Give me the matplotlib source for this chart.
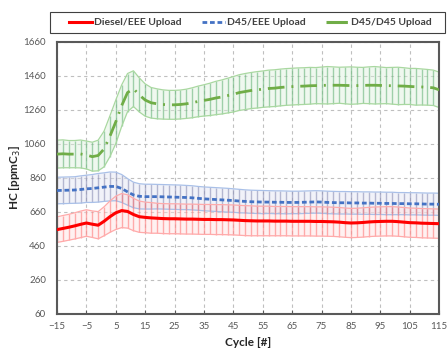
import numpy as np
import matplotlib
matplotlib.use("Agg")
import matplotlib.pyplot as plt
from matplotlib.lines import Line2D
from matplotlib.patches import Rectangle

plt.rcParams["font.family"] = ["Lato", "DejaVu Sans"]

# Cycle index (every second cycle)
cycles = np.arange(-15, 116, 2)

# D45/D45 upload: mean and half-width of the scatter band
d45_d45_mean = [
    1000, 1002, 1000, 1000, 1001, 995, 985, 992, 1030, 1105, 1190,
    1285, 1362, 1385, 1348, 1318, 1302, 1296, 1292, 1290, 1290, 1292,
    1296, 1302, 1310, 1316, 1322, 1330, 1336, 1344, 1352, 1362, 1368,
    1374, 1378, 1382, 1386, 1388, 1392, 1395, 1397, 1399, 1400, 1402,
    1403, 1404, 1405, 1405, 1405, 1404, 1403, 1403, 1404, 1405, 1405,
    1404, 1403, 1402, 1401, 1400, 1398, 1396, 1395, 1393, 1390, 1378,
]
d45_d45_hw = [
    82, 82, 80, 80, 82, 82, 85, 90, 105, 120, 128,
    122, 112, 105, 100, 95, 90, 88, 86, 85, 85, 85,
    86, 88, 90, 92, 95, 98, 100, 102, 104, 105, 106,
    106, 107, 107, 108, 108, 108, 108, 108, 108, 108, 108,
    106, 108, 110, 108, 106, 108, 110, 108, 106, 108, 110,
    108, 106, 108, 110, 108, 106, 108, 106, 105, 104, 104,
]

# D45/EEE upload
d45_eee_mean = [
    786, 787, 788, 789, 792, 796, 798, 802, 806, 810, 810,
    798, 778, 760, 752, 750, 750, 750, 749, 748, 747, 746,
    745, 743, 740, 737, 735, 733, 731, 729, 727, 724, 722,
    720, 719, 718, 718, 717, 717, 716, 716, 716, 717, 718,
    719, 718, 716, 715, 714, 714, 713, 713, 712, 712, 711,
    711, 710, 710, 709, 709, 708, 708, 707, 706, 706, 705,
]
d45_eee_hw = [
    78, 78, 78, 78, 80, 80, 82, 84, 84, 85, 84,
    82, 78, 75, 74, 73, 73, 72, 72, 72, 72, 72,
    71, 71, 70, 70, 70, 70, 70, 70, 69, 69, 68,
    68, 68, 68, 67, 67, 67, 67, 66, 66, 66, 66,
    66, 66, 66, 66, 66, 66, 66, 66, 66, 66, 66,
    66, 66, 66, 65, 65, 65, 65, 65, 65, 65, 65,
]

# Diesel/EEE upload
diesel_eee_mean = [
    556, 563, 570, 578, 587, 595, 588, 582, 605, 632, 655,
    668, 663, 645, 632, 628, 625, 623, 621, 620, 620, 619,
    618, 618, 617, 616, 616, 615, 615, 614, 613, 611, 609,
    608, 607, 607, 607, 606, 606, 606, 605, 605, 605, 605,
    604, 604, 603, 602, 600, 597, 595, 596, 598, 601, 603,
    604, 605, 605, 603, 600, 597, 596, 594, 593, 592, 591,
]
diesel_eee_hw = [
    75, 76, 76, 77, 78, 78, 78, 80, 85, 92, 98,
    100, 98, 95, 92, 90, 90, 88, 88, 88, 88, 88,
    88, 88, 88, 88, 88, 88, 88, 88, 88, 88, 88,
    88, 87, 87, 87, 86, 86, 86, 86, 86, 86, 86,
    86, 86, 86, 86, 86, 86, 86, 86, 86, 86, 86,
    86, 86, 86, 86, 86, 86, 86, 86, 86, 86, 86,
]

series_labels = ["Diesel/EEE Upload", "D45/EEE Upload", "D45/D45 Upload"]
x_ticks = list(range(-15, 116, 10))
y_ticks = list(range(60, 1661, 200))

W, H = 447, 352
fig = plt.figure(figsize=(W / 100, H / 100), dpi=100)
ax = fig.add_axes([0.1275, 0.108, 0.855, 0.773])


def draw_band(mean, hw, bar_color, edge_color, fill_color, bar_alpha):
    m = np.asarray(mean, float)
    h = np.asarray(hw, float)
    lo, hi = m - h, m + h
    ax.fill_between(cycles, lo, hi, color=fill_color, alpha=0.45, lw=0, zorder=1)
    ax.vlines(cycles, lo, hi, colors=bar_color, alpha=bar_alpha, lw=1.0, zorder=2)
    ax.plot(cycles, lo, color=edge_color, lw=0.9, zorder=2)
    ax.plot(cycles, hi, color=edge_color, lw=0.9, zorder=2)


draw_band(d45_d45_mean, d45_d45_hw, "#4EA865", "#A9D8A0", "#DDF0DC", 0.5)
draw_band(d45_eee_mean, d45_eee_hw, "#6A6E9E", "#A9C0E8", "#E2E4F2", 0.45)
draw_band(diesel_eee_mean, diesel_eee_hw, "#FF7070", "#FFAAAA", "#FFE0E0", 0.55)

red = "#FF0000"
blue = "#4472C4"
green = "#70AD47"
blue_ls = (0, (1.7, 1.0))
green_ls = (0, (6, 2.5, 0.7, 2.5))

ax.plot(cycles, diesel_eee_mean, color=red, lw=2.2, zorder=5)
ax.plot(cycles, d45_eee_mean, color=blue, lw=2.0, ls=blue_ls, zorder=5)
ax.plot(cycles, d45_d45_mean, color=green, lw=2.0, ls=green_ls, zorder=5)

ax.set_xlim(-15, 115)
ax.set_ylim(60, 1660)
ax.set_xticks(x_ticks)
ax.set_yticks(y_ticks)
ax.grid(True, color="#BFBFBF", ls=(0, (3, 3)), lw=0.8)
ax.set_axisbelow(True)
for s in ax.spines.values():
    s.set_color("#595959")
    s.set_linewidth(1.5)
ax.tick_params(axis="x", direction="in", length=3, color="#595959",
               labelsize=7, labelcolor="#595959", pad=6)
ax.tick_params(axis="y", length=0, labelsize=7, labelcolor="#595959", pad=8)

ax.set_xlabel("Cycle [#]", fontsize=8.5, fontweight="bold", color="#262626", labelpad=4)
ax.set_ylabel("HC [ppmC$_3$]", fontsize=8.5, fontweight="bold", color="#262626")
ax.yaxis.set_label_coords(-0.088, 0.5)

handles = [
    Line2D([], [], color=red, lw=2.2),
    Line2D([], [], color=blue, lw=2.0, ls=blue_ls),
    Line2D([], [], color=green, lw=2.2, ls=(0, (7, 20))),
]
leg = fig.legend(handles, series_labels, ncol=3, loc="center",
                 bbox_to_anchor=(0.56, 0.936), frameon=False,
                 fontsize=7.5, handlelength=2.2, handletextpad=0.25,
                 columnspacing=1.9)
for t in leg.get_texts():
    t.set_fontweight("bold")
    t.set_color("#404040")

# legend box spanning the top of the figure
fig.patches.append(Rectangle((50 / W, 1 - 33 / H), 395 / W, 21 / H,
                             transform=fig.transFigure, fill=False,
                             ec="#404040", lw=0.8))

fig.savefig("out.png", dpi=100)
